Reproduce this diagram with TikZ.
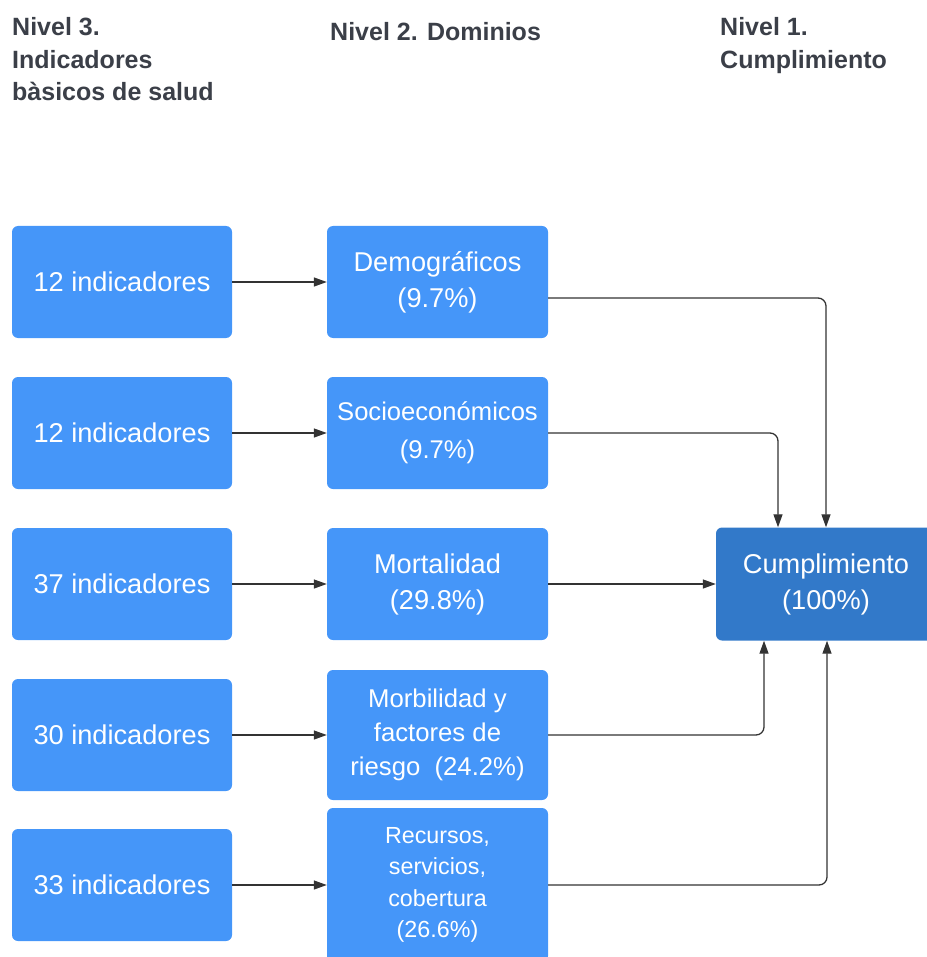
\documentclass[tikz,border=0pt]{standalone}
\usepackage{fontspec}
\setmainfont{Liberation Sans}
\usetikzlibrary{arrows.meta}
\definecolor{boxblue}{HTML}{4596F9}
\definecolor{darkblue}{HTML}{3279C9}
\definecolor{headgray}{HTML}{3B3F48}
\definecolor{linegray}{HTML}{333333}
\begin{document}
\begin{tikzpicture}[x=1pt,y=-1pt,
  header/.style={anchor=base west, inner sep=0pt, align=left, text=headgray,
    font=\fontsize{25}{32.5}\selectfont\bfseries},
  indbox/.style={fill=boxblue, rounded corners=6pt, minimum width=220pt,
    minimum height=112pt, inner sep=0pt, text=white, align=center,
    font=\fontsize{27.2}{36}\selectfont},
  dombox/.style={indbox, minimum width=221pt},
  conn/.style={draw=linegray, line width=1.3pt, rounded corners=8pt,
    -{Triangle[length=13pt,width=9pt]}}
]
\useasboundingbox (0,0) rectangle (926,957);

% headers (anchored at the baseline of their last line)
\node[header] (h3) at (12,101) {Nivel 3.\\Indicadores\\bàsicos de salud};
\node[header] (h2) at (330,41) {Nivel 2. Dominios};
\node[header] (h1) at (720,68.5) {Nivel 1.\\Cumplimiento};

% level 3
\node[indbox] (i1) at (122,282) {12 indicadores};
\node[indbox] (i2) at (122,433) {12 indicadores};
\node[indbox] (i3) at (122,584) {37 indicadores};
\node[indbox] (i4) at (122,735) {30 indicadores};
\node[indbox] (i5) at (122,885) {33 indicadores};

% level 2
\node[dombox] (d1) at (437.5,282) {Demográficos\\(9.7\%)};
\node[dombox, font=\fontsize{25.6}{38}\selectfont] (d2) at (437.5,433) {Socioeconómicos\\(9.7\%)};
\node[dombox] (d3) at (437.5,584) {Mortalidad\\(29.8\%)};
\node[dombox, minimum height=130pt, font=\fontsize{25.7}{34}\selectfont] (d4) at (437.5,735)
  {Morbilidad y\\factores de\\riesgo\ \ (24.2\%)};
\node[dombox, minimum height=154pt, font=\fontsize{23.3}{31.5}\selectfont] (d5) at (437.5,885)
  {Recursos,\\servicios,\\cobertura\\(26.6\%)};

% level 1
\node[indbox, fill=darkblue, minimum height=113pt] (c) at (826,584) {Cumplimiento\\(100\%)};

% connectors
\draw[conn] (i1.east) -- (d1.west);
\draw[conn] (i2.east) -- (d2.west);
\draw[conn] (i3.east) -- (d3.west);
\draw[conn] (i4.east) -- (d4.west);
\draw[conn] (i5.east) -- (d5.west);

\draw[conn] ([yshift=-16pt]d1.east) -| (c.north);
\draw[conn] (d2.east) -| ([xshift=-48pt]c.north);
\draw[conn] (d3.east) -- (c.west);
\draw[conn] (d4.east) -| ([xshift=-62pt]c.south);
\draw[conn] (d5.east) -| ([xshift=1pt]c.south);
\end{tikzpicture}
\end{document}
